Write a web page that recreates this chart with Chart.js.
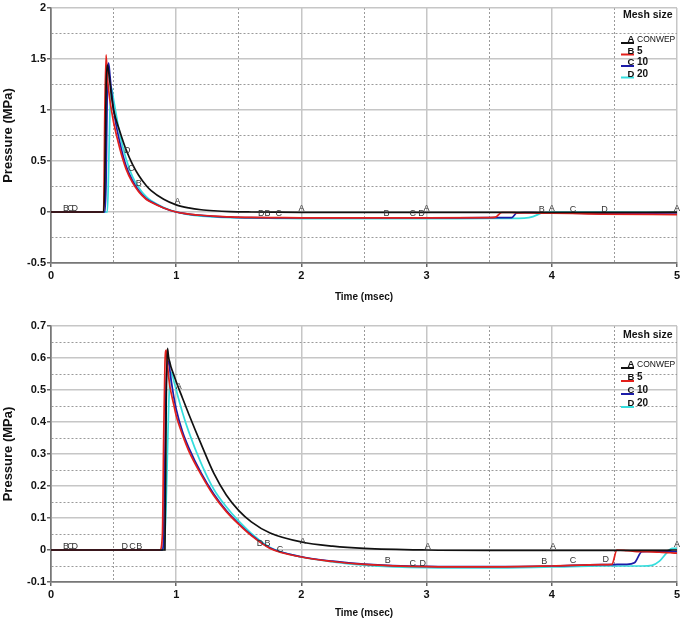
<!DOCTYPE html>
<html>
<head>
<meta charset="utf-8">
<script src="https://cdn.jsdelivr.net/npm/chart.js@4.4.0/dist/chart.umd.min.js"></script>
<style>
  body { margin: 0; background: #fff; }
  #wrap { position: relative; width: 685px; height: 623px; }
  canvas { position: absolute; left: 0; }
</style>
</head>
<body>
<div id="wrap">
  <canvas id="topChart" width="685" height="310" style="top:0"></canvas>
  <canvas id="bottomChart" width="685" height="313" style="top:310px"></canvas>
</div>
<script>
const seriesNames = ["CONWEP", "5", "10", "20"];
const seriesLetters = ["A", "B", "C", "D"];
const seriesColors = ["#111111", "#e3201b", "#1c1ca8", "#35dede"];

// upper chart
const topTime = [0, 0.42, 0.43, 0.44, 0.45, 0.46, 0.47, 0.48, 0.5, 0.55, 0.6, 0.65, 0.7, 0.76, 0.8, 0.9, 1.0,
  1.1, 1.2, 1.3, 1.43, 1.6, 1.8, 2.0, 2.5, 3.0, 3.5, 3.55, 3.6, 3.68, 3.72, 3.78, 3.85, 3.92, 4.0, 4.4, 5.0];
const topConwep = [0, 0, 0.3, 1.2, 1.44, 1.38, 1.28, 1.17, 1.0, 0.79, 0.61, 0.47, 0.36, 0.26, 0.21, 0.125, 0.07,
  0.04, 0.022, 0.012, 0.004, 0, -0.002, -0.003, -0.003, -0.003, -0.003, -0.003, -0.003, -0.003, -0.003, -0.003, -0.003, -0.003, -0.003, -0.003, -0.002];
const topMesh5 = [0, 0, 1.0, 1.54, 1.32, 1.2, 1.1, 1.02, 0.88, 0.62, 0.42, 0.29, 0.2, 0.125, 0.095, 0.04, 0.0,
  -0.02, -0.032, -0.04, -0.048, -0.053, -0.055, -0.057, -0.058, -0.058, -0.055, -0.05, -0.005, -0.005, -0.008, -0.01, -0.01, -0.012, -0.012, -0.02, -0.025];
const topMesh10 = [0, 0, 0, 0.3, 1.25, 1.46, 1.35, 1.22, 1.0, 0.68, 0.45, 0.31, 0.21, 0.13, 0.1, 0.04, 0.0,
  -0.02, -0.033, -0.042, -0.05, -0.055, -0.057, -0.058, -0.058, -0.058, -0.056, -0.056, -0.056, -0.055, -0.01, -0.005, -0.006, -0.008, -0.01, -0.015, -0.02];
const topMesh20 = [0, 0, 0, 0, 0, 0.4, 0.95, 1.23, 1.1, 0.76, 0.52, 0.35, 0.24, 0.15, 0.11, 0.045, 0.0,
  -0.025, -0.04, -0.048, -0.055, -0.06, -0.062, -0.064, -0.065, -0.065, -0.063, -0.063, -0.063, -0.063, -0.062, -0.06, -0.045, -0.01, 0.0, 0.0, -0.005];
const topMarkLetters = ["B", "C", "D", "D", "C", "B", "A", "D", "B", "C", "A", "B", "C", "D", "A", "B", "A", "C", "D", "A"];
const topMarkTimes = [0.12, 0.155, 0.19, 0.61, 0.64, 0.7, 1.01, 1.68, 1.73, 1.82, 2.0, 2.68, 2.89, 2.96, 3.0, 3.92, 4.0, 4.17, 4.42, 5.0];
const topMarkValues = [0, 0, 0, 0.57, 0.39, 0.245, 0.065, -0.05, -0.05, -0.05, 0, -0.05, -0.05, -0.05, 0, -0.005, 0, -0.005, -0.005, 0];

// lower chart
const bottomTime = [0, 0.87, 0.89, 0.9, 0.91, 0.92, 0.93, 0.94, 0.95, 0.96, 0.98, 1.0, 1.05, 1.1, 1.2, 1.3, 1.4, 1.5, 1.6, 1.75,
  2.0, 2.25, 2.5, 3.0, 3.5, 4.0, 4.4, 4.48, 4.52, 4.6, 4.66, 4.72, 4.8, 4.86, 4.92, 4.96, 5.0];
const bottomConwep = [0, 0, 0, 0, 0, 0.45, 0.63, 0.6, 0.585, 0.57, 0.548, 0.526, 0.475, 0.425, 0.33, 0.24, 0.172, 0.123, 0.088, 0.053,
  0.025, 0.012, 0.005, 0.0, -0.001, -0.001, -0.001, -0.001, -0.001, -0.001, -0.001, -0.001, -0.001, -0.001, -0.001, 0, 0];
const bottomMesh5 = [0, 0, 0.05, 0.35, 0.58, 0.625, 0.58, 0.54, 0.51, 0.49, 0.455, 0.42, 0.36, 0.31, 0.235, 0.17, 0.12, 0.08, 0.045, 0.005,
  -0.022, -0.036, -0.045, -0.052, -0.053, -0.05, -0.046, -0.045, 0.0, -0.002, -0.004, -0.005, -0.006, -0.007, -0.008, -0.009, -0.01];
const bottomMesh10 = [0, 0, 0, 0.05, 0.3, 0.52, 0.58, 0.59, 0.56, 0.53, 0.48, 0.44, 0.37, 0.32, 0.24, 0.175, 0.123, 0.082, 0.047, 0.006,
  -0.021, -0.035, -0.044, -0.051, -0.052, -0.05, -0.046, -0.046, -0.045, -0.045, -0.04, -0.005, -0.004, -0.004, -0.004, -0.005, -0.006];
const bottomMesh20 = [0, 0, 0.002, 0.01, 0.05, 0.15, 0.3, 0.45, 0.53, 0.555, 0.53, 0.5, 0.43, 0.37, 0.27, 0.19, 0.135, 0.09, 0.052, 0.008,
  -0.022, -0.037, -0.047, -0.055, -0.056, -0.053, -0.05, -0.05, -0.05, -0.05, -0.05, -0.05, -0.048, -0.035, -0.008, 0.005, 0.005];
const bottomMarkLetters = ["B", "C", "D", "D", "C", "B", "A", "D", "B", "C", "A", "B", "C", "D", "A", "B", "A", "C", "D", "A"];
const bottomMarkTimes = [0.12, 0.155, 0.19, 0.59, 0.65, 0.705, 1.02, 1.67, 1.73, 1.83, 2.01, 2.69, 2.89, 2.97, 3.01, 3.94, 4.01, 4.17, 4.43, 5.0];
const bottomMarkValues = [0, 0, 0, 0, 0, 0, 0.5, 0.008, 0.008, -0.01, 0.017, -0.045, -0.052, -0.052, 0, -0.046, 0, -0.044, -0.042, 0.005];

const FONT = "'Liberation Sans', Arial, sans-serif";

// letters written along the curves
const letterMarks = {
  id: "letterMarks",
  afterDatasetsDraw(chart, args, opts) {
    const { ctx, scales: { x, y } } = chart;
    ctx.save();
    ctx.font = "9px " + FONT;
    ctx.fillStyle = "#333";
    ctx.textAlign = "center";
    ctx.textBaseline = "alphabetic";
    opts.letters.forEach((l, i) => {
      ctx.fillText(l, x.getPixelForValue(opts.times[i]), y.getPixelForValue(opts.values[i]) - 1);
    });
    ctx.restore();
  },
};

// "Mesh size" key in the top right corner
const meshLegend = {
  id: "meshLegend",
  afterDraw(chart, args, opts) {
    const { ctx, chartArea } = chart;
    const left = chartArea.right - 56;
    ctx.save();
    ctx.fillStyle = "#111";
    ctx.textBaseline = "middle";
    ctx.textAlign = "left";
    ctx.font = "bold 10.5px " + FONT;
    ctx.fillText("Mesh size", left + 2, chartArea.top + opts.titleGap);
    chart.data.datasets.forEach((ds, i) => {
      const ly = chartArea.top + opts.firstRow + i * opts.rowGap;
      ctx.strokeStyle = ds.borderColor;
      ctx.lineWidth = 2;
      ctx.beginPath();
      ctx.moveTo(left, ly);
      ctx.lineTo(left + 13, ly);
      ctx.stroke();
      ctx.textBaseline = "alphabetic";
      ctx.textAlign = "center";
      ctx.font = "bold 9.5px " + FONT;
      ctx.fillText(seriesLetters[i], left + 10, ly - 1);
      ctx.textAlign = "left";
      ctx.font = i === 0 ? "8.5px " + FONT : "bold 10px " + FONT;
      ctx.fillText(ds.label, left + 16, ly - 1);
    });
    ctx.restore();
  },
};

function makeChart(id, time, values, marks, yMin, yMax, yStep, yMajor, xAxisHeight, titleBottom, padTop, legendOpts) {
  const majorX = (v) => Math.abs(v - Math.round(v)) < 1e-6;
  const majorY = (v) => Math.abs(v / yMajor - Math.round(v / yMajor)) < 1e-6;
  const tickFont = { family: FONT, size: 11, weight: "bold" };

  return new Chart(document.getElementById(id), {
    type: "line",
    data: {
      labels: time,
      datasets: values.map((vals, i) => ({
        label: seriesNames[i],
        data: vals.map((v, k) => ({ x: time[k], y: v })),
        borderColor: seriesColors[i],
        borderWidth: 1.7,
        pointRadius: 0,
        cubicInterpolationMode: "monotone",
        fill: false,
      })),
    },
    options: {
      responsive: false,
      animation: false,
      layout: { padding: { top: padTop, right: 8, left: 0, bottom: 0 } },
      plugins: {
        legend: { display: false },
        tooltip: { enabled: false },
        letterMarks: marks,
        meshLegend: legendOpts,
      },
      scales: {
        x: {
          type: "linear",
          min: 0,
          max: 5,
          ticks: {
            stepSize: 0.5,
            autoSkip: false,
            maxRotation: 0,
            padding: 2,
            color: "#111",
            font: tickFont,
            callback: (v) => (majorX(v) ? String(Math.round(v)) : ""),
          },
          grid: {
            color: (c) => (c.tick.value === 0 ? "#777" : majorX(c.tick.value) ? "#c6c6c6" : "#9a9a9a"),
            lineWidth: (c) => (majorX(c.tick.value) ? 1.5 : 1),
            tickLength: 4,
            tickColor: (c) => (majorX(c.tick.value) ? "#666" : "rgba(0,0,0,0)"),
          },
          border: {
            color: "#777",
            width: 1.5,
            dash: (c) => (c.tick && !majorX(c.tick.value) ? [2, 2] : []),
          },
          title: {
            display: true,
            text: "Time (msec)",
            color: "#111",
            font: { family: FONT, size: 10, weight: "bold" },
            padding: { top: 0, bottom: titleBottom },
          },
          afterFit: (s) => { s.height = xAxisHeight; },
        },
        y: {
          min: yMin,
          max: yMax,
          ticks: {
            stepSize: yStep,
            autoSkip: false,
            padding: 1,
            color: "#111",
            font: tickFont,
            callback: (v) => (majorY(v) ? String(Math.round(v * 10) / 10) : ""),
          },
          grid: {
            color: (c) => (Math.abs(c.tick.value - yMin) < 1e-6 ? "#777" : majorY(c.tick.value) ? "#c6c6c6" : "#9a9a9a"),
            lineWidth: (c) => (majorY(c.tick.value) ? 1.5 : 1),
            tickLength: 4,
            tickColor: (c) => (majorY(c.tick.value) ? "#666" : "rgba(0,0,0,0)"),
          },
          border: {
            color: "#777",
            width: 1.5,
            dash: (c) => (c.tick && !majorY(c.tick.value) ? [2, 2] : []),
          },
          title: {
            display: true,
            text: "Pressure (MPa)",
            color: "#111",
            font: { family: FONT, size: 13, weight: "bold" },
            padding: { top: 1, bottom: 0 },
          },
          afterFit: (s) => { s.width = 51; },
        },
      },
    },
    plugins: [letterMarks, meshLegend],
  });
}

makeChart(
  "topChart",
  topTime,
  [topConwep, topMesh5, topMesh10, topMesh20],
  { letters: topMarkLetters, times: topMarkTimes, values: topMarkValues },
  -0.5, 2, 0.25, 0.5,
  47, 7, 8,
  { titleGap: 7, firstRow: 35, rowGap: 11.5 }
);

makeChart(
  "bottomChart",
  bottomTime,
  [bottomConwep, bottomMesh5, bottomMesh10, bottomMesh20],
  { letters: bottomMarkLetters, times: bottomMarkTimes, values: bottomMarkValues },
  -0.1, 0.7, 0.05, 0.1,
  41, 4, 16,
  { titleGap: 9, firstRow: 42, rowGap: 13 }
);
</script>
</body>
</html>
